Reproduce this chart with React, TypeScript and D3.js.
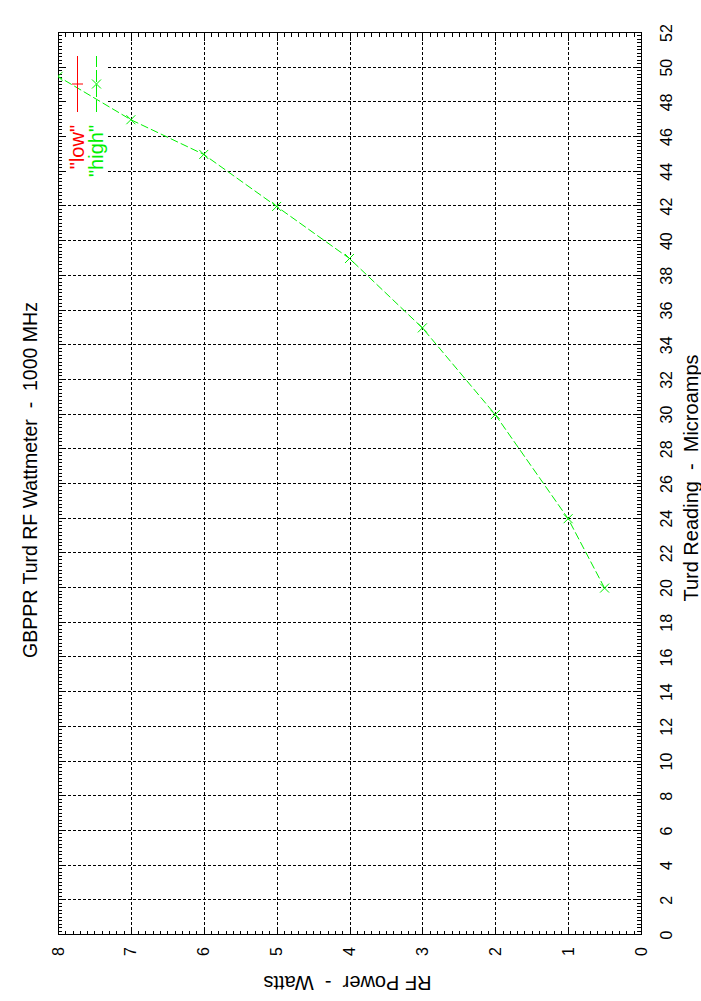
import * as d3 from "d3";

// data: "high" series, RF power (W) against turd reading (uA)
const microamps = [20, 24, 30, 35, 39, 42, 45, 47, 49.5];
const highWatts = [0.5, 1, 2, 3, 4, 5, 6, 7, 8];

const xTicks = d3.range(0, 53, 2);
const yTicks = d3.range(0, 9, 1);
const xMinor = d3.range(0, 52.01, 0.2);
const yMinor = d3.range(0, 8.001, 0.1);

const seriesNames = ['"low"', '"high"'];
const seriesColors = ["#ff0000", "#00f000"];

const NB = "\u00a0";
const title = `GBPPR Turd RF Wattmeter ${NB}-${NB} 1000 MHz`;
const xLabel = `Turd Reading ${NB}-${NB} Microamps`;
const yLabel = `RF Power ${NB}-${NB} Watts`;

const FONT = "'Liberation Sans', Arial, Helvetica, sans-serif";

export default function App() {
  // chart is drawn landscape (1001 x 701) then turned onto the portrait page
  const LW = 1001;
  const X0 = 66, X1 = 968, Y0 = 641, Y1 = 58;
  const x = d3.scaleLinear().domain([0, 52]).range([X0, X1]);
  const y = d3.scaleLinear().domain([0, 8]).range([Y0, Y1]);
  const px = (v: number) => Math.round(v) + 0.5;

  // key area blanks the grid
  const keyX = 821, keyY = Y1 + 49;

  const path = d3
    .line<number>()
    .x((_, i) => x(microamps[i]))
    .y((d) => y(d))(highWatts);

  const cross = (cx: number, cy: number, r: number, color: string, key: string) => (
    <g key={key} stroke={color} strokeWidth={1}>
      <line x1={cx - r} y1={cy - r} x2={cx + r} y2={cy + r} />
      <line x1={cx - r} y1={cy + r} x2={cx + r} y2={cy - r} />
    </g>
  );

  return (
    <svg
      width={701}
      height={1001}
      style={{ position: "absolute", left: 0, top: 0, background: "#fff" }}
      fontFamily={FONT}
    >
      <rect width={701} height={1001} fill="#fff" />
      <g transform={`translate(0,${LW}) rotate(-90)`}>
        <defs>
          <clipPath id="plot">
            <rect x={X0} y={Y1} width={X1 - X0} height={Y0 - Y1} />
          </clipPath>
        </defs>

        {/* grid */}
        <g stroke="#000" strokeWidth={1} strokeDasharray="3,2" shapeRendering="crispEdges">
          {xTicks.slice(1, -1).map((t) => (
            <line
              key={"gx" + t}
              x1={px(x(t))}
              x2={px(x(t))}
              y1={Y0}
              y2={x(t) > keyX ? keyY : Y1}
            />
          ))}
          {yTicks.slice(1, -1).map((t) => (
            <line key={"gy" + t} x1={X0} x2={X1} y1={px(y(t))} y2={px(y(t))} />
          ))}
        </g>

        {/* ticks */}
        <g stroke="#000" strokeWidth={1} shapeRendering="crispEdges">
          {xMinor.map((t, i) => {
            const len = i % 10 === 0 ? 8 : 4;
            const xx = px(x(t));
            return (
              <g key={"tx" + i}>
                <line x1={xx} x2={xx} y1={Y0} y2={Y0 - len} />
                <line x1={xx} x2={xx} y1={Y1} y2={Y1 + len} />
              </g>
            );
          })}
          {yMinor.map((t, i) => {
            const len = i % 10 === 0 ? 8 : 4;
            const yy = px(y(t));
            return (
              <g key={"ty" + i}>
                <line x1={X0} x2={X0 + len} y1={yy} y2={yy} />
                <line x1={X1} x2={X1 - len} y1={yy} y2={yy} />
              </g>
            );
          })}
          <rect
            x={px(X0)}
            y={px(Y1)}
            width={Math.round(X1) - Math.round(X0)}
            height={Math.round(Y0) - Math.round(Y1)}
            fill="none"
          />
        </g>

        {/* tick labels */}
        <g fontSize={16} fill="#000">
          {xTicks.map((t) => (
            <text key={"lx" + t} x={x(t)} y={Y0 + 31} textAnchor="middle">
              {t}
            </text>
          ))}
          {yTicks.map((t) => (
            <text key={"ly" + t} x={X0 - 12} y={y(t)} dy="0.35em" textAnchor="end">
              {t}
            </text>
          ))}
        </g>

        {/* titles */}
        <g fill="#000">
          <text x={521} y={37} fontSize={19.5} textAnchor="middle">
            {title}
          </text>
          <text x={523} y={698} fontSize={20} textAnchor="middle">
            {xLabel}
          </text>
          <text
            fontSize={20}
            transform={`translate(25,${(Y0 + Y1) / 2 - 2}) rotate(-90)`}
            textAnchor="middle"
          >
            {yLabel}
          </text>
        </g>

        {/* data */}
        <g clipPath="url(#plot)">
          <path d={path ?? ""} fill="none" stroke={seriesColors[1]} strokeWidth={1} strokeDasharray="8,3" />
          {highWatts.map((w, i) => cross(x(microamps[i]), y(w), 4.5, seriesColors[1], "m" + i))}
        </g>

        {/* key */}
        <g fontSize={20}>
          {seriesNames.map((name, i) => {
            const ky = 77 + i * 19;
            return (
              <g key={name}>
                <text x={876} y={ky} dy="0.35em" textAnchor="end" fill={seriesColors[i]}>
                  {name}
                </text>
                <line
                  x1={889}
                  x2={945}
                  y1={ky + 0.5}
                  y2={ky + 0.5}
                  stroke={seriesColors[i]}
                  strokeWidth={1}
                  strokeDasharray={i === 1 ? "12,3" : undefined}
                />
                {i === 0 ? (
                  <g stroke={seriesColors[0]} strokeWidth={1}>
                    <line x1={917} x2={917} y1={ky - 5} y2={ky + 6} />
                    <line x1={911.5} x2={922.5} y1={ky + 0.5} y2={ky + 0.5} />
                  </g>
                ) : (
                  cross(917, ky + 0.5, 4.5, seriesColors[1], "kx")
                )}
              </g>
            );
          })}
        </g>
      </g>
    </svg>
  );
}
